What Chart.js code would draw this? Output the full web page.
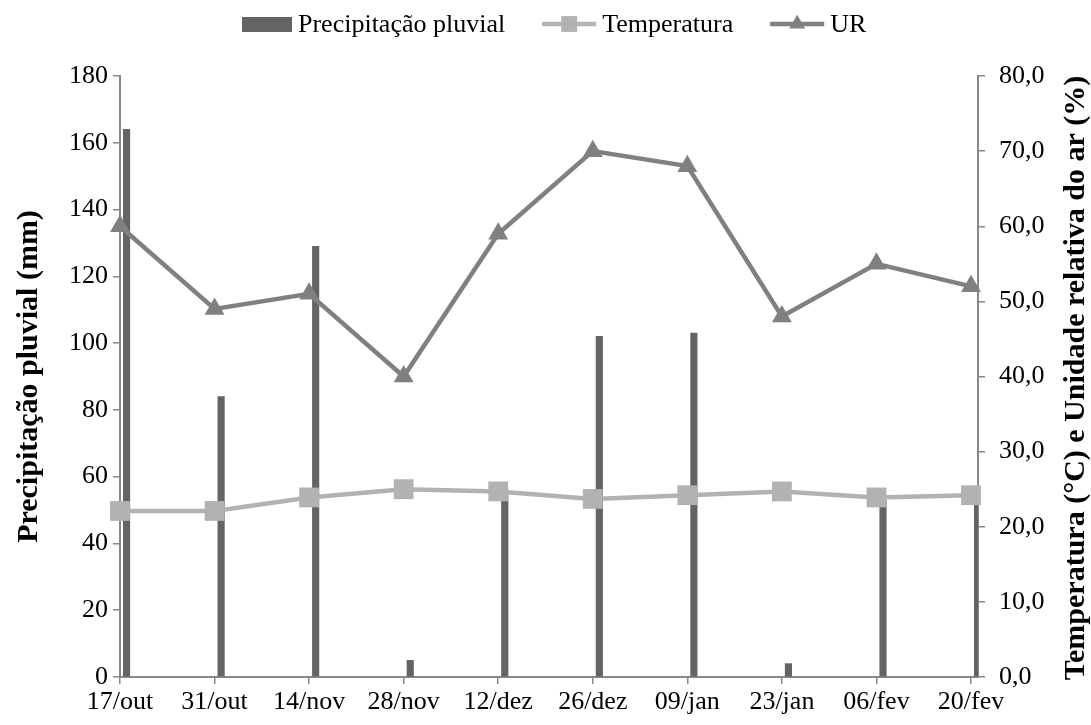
<!DOCTYPE html>
<html>
<head>
<meta charset="utf-8">
<script src="https://cdn.jsdelivr.net/npm/chart.js@4.4.1/dist/chart.umd.min.js"></script>
<style>
    html, body { margin: 0; padding: 0; background: #fff; }
    #wrap { width: 1091px; height: 725px; }
</style>
</head>
<body>
<div id="wrap"><canvas id="grafico" width="1091" height="725"></canvas></div>
<script>
// Datas de coleta (eixo X)
const datas = ["17/out", "31/out", "14/nov", "28/nov", "12/dez", "26/dez", "09/jan", "23/jan", "06/fev", "20/fev"];

// Séries
const precipitacao = [164, 84, 129, 5, 56, 102, 103, 4, 53, 54];          // mm
const temperatura = [22.1, 22.1, 23.9, 25.0, 24.7, 23.7, 24.2, 24.7, 23.9, 24.2]; // °C
const umidade = [60, 49, 51, 40, 59, 70, 68, 48, 55, 52];                 // %

// Marcas dos eixos
const ticksPrecip = [0, 20, 40, 60, 80, 100, 120, 140, 160, 180];
const ticksTemp = [0, 10, 20, 30, 40, 50, 60, 70, 80];

const tituloDireita = "Temperatura (°C) e Unidade relativa do ar (%)";

const fonte = '"Liberation Serif", "Times New Roman", serif';
const corEixo = "#888888";
const tamFonte = 26;
const tamTitulo = 30;

Chart.defaults.font.family = fonte;
Chart.defaults.color = "#000";

// Legenda desenhada à mão (linha + marcador, como no original) e título do eixo direito
const legendaManual = {
    id: "legendaManual",
    afterDraw(chart) {
        const ctx = chart.ctx;
        const y = 24;
        let x = 242;
        ctx.save();
        ctx.font = tamFonte + "px " + fonte;
        ctx.textBaseline = "middle";
        ctx.textAlign = "left";
        const itens = [2, 0, 1]; // ordem: precipitação, temperatura, UR
        itens.forEach(idx => {
            const ds = chart.data.datasets[idx];
            let w;
            if (ds.type === "bar") {
                w = 50;
                ctx.fillStyle = ds.backgroundColor;
                ctx.fillRect(x, y - 7, w, 15);
            } else {
                w = 54;
                ctx.strokeStyle = ds.borderColor;
                ctx.lineWidth = ds.borderWidth;
                ctx.beginPath();
                ctx.moveTo(x, y);
                ctx.lineTo(x + w, y);
                ctx.stroke();
                ctx.fillStyle = ds.backgroundColor;
                Chart.helpers.drawPoint(ctx, { pointStyle: ds.pointStyle, radius: ds.pointRadius * 0.8, borderWidth: 0 }, x + w / 2, y);
            }
            x += w + 6;
            ctx.fillStyle = "#000";
            ctx.fillText(ds.label, x, y + 1);
            x += ctx.measureText(ds.label).width + 37;
        });

        // título do eixo direito, lido de baixo para cima
        ctx.font = "bold " + tamTitulo + "px " + fonte;
        ctx.textAlign = "center";
        ctx.translate(1076, 378);
        ctx.rotate(-Math.PI / 2);
        ctx.fillText(tituloDireita, 0, 0);
        ctx.restore();
    }
};

const grafico = document.getElementById("grafico").getContext("2d");
new Chart(grafico, {
    data: {
        datasets: [
            {
                type: "line",
                label: "Temperatura",
                data: temperatura.map((v, i) => ({ x: i, y: v })),
                xAxisID: "x",
                yAxisID: "y1",
                borderColor: "#b2b2b2",
                backgroundColor: "#b2b2b2",
                borderWidth: 4.5,
                pointStyle: "rect",
                pointRadius: 14,
                pointBorderWidth: 0,
                tension: 0,
                clip: false,
                order: 1
            },
            {
                type: "line",
                label: "UR",
                data: umidade.map((v, i) => ({ x: i, y: v })),
                xAxisID: "x",
                yAxisID: "y1",
                borderColor: "#808080",
                backgroundColor: "#808080",
                borderWidth: 4.5,
                pointStyle: "triangle",
                pointRadius: 11.5,
                pointBorderWidth: 0,
                tension: 0,
                clip: false,
                order: 2
            },
            {
                type: "bar",
                label: "Precipitação pluvial",
                data: precipitacao.map((v, i) => ({ x: i, y: v })),
                xAxisID: "xb",
                yAxisID: "y",
                backgroundColor: "#646464",
                barThickness: 6.5,
                order: 3
            }
        ]
    },
    options: {
        responsive: false,
        animation: false,
        layout: { padding: { top: 76, left: 0, right: 0, bottom: 0 } },
        plugins: {
            legend: { display: false },
            tooltip: { enabled: false }
        },
        scales: {
            x: {
                type: "linear",
                position: "bottom",
                min: 0,
                max: 9.074,
                offset: false,
                afterBuildTicks: s => { s.ticks = datas.map((_, i) => ({ value: i })); },
                afterFit: s => { s.height = 48; },
                ticks: {
                    callback: v => datas[Math.round(v)],
                    font: { size: tamFonte },
                    color: "#000",
                    padding: 3,
                    maxRotation: 0,
                    autoSkip: false
                },
                grid: { display: true, drawOnChartArea: false, tickLength: 7, color: corEixo, lineWidth: 1.5 },
                border: { color: corEixo, width: 2 }
            },
            // eixo auxiliar só para deslocar as barras um pouco à direita da marca
            xb: {
                type: "linear",
                display: false,
                offset: false,
                min: -0.035,
                max: 9.039
            },
            y: {
                position: "left",
                min: 0,
                max: 180,
                afterBuildTicks: s => { s.ticks = ticksPrecip.map(v => ({ value: v })); },
                afterFit: s => { s.width = 120; },
                ticks: { font: { size: tamFonte }, color: "#000", padding: 5 },
                grid: { display: true, drawOnChartArea: false, tickLength: 7, color: corEixo, lineWidth: 1.5 },
                border: { color: corEixo, width: 2 },
                title: {
                    display: true,
                    text: "Precipitação pluvial (mm)",
                    font: { size: tamTitulo, weight: "bold" },
                    color: "#000",
                    padding: { top: 11, bottom: 0 }
                }
            },
            y1: {
                position: "right",
                min: 0,
                max: 80,
                afterBuildTicks: s => { s.ticks = ticksTemp.map(v => ({ value: v })); },
                afterFit: s => { s.width = 113; },
                ticks: {
                    callback: v => v.toFixed(1).replace(".", ","),
                    font: { size: tamFonte },
                    color: "#000",
                    padding: 14
                },
                grid: { display: true, drawOnChartArea: false, tickLength: 7, color: corEixo, lineWidth: 1.5 },
                border: { color: corEixo, width: 2 }
            }
        }
    },
    plugins: [legendaManual]
});
</script>
</body>
</html>
